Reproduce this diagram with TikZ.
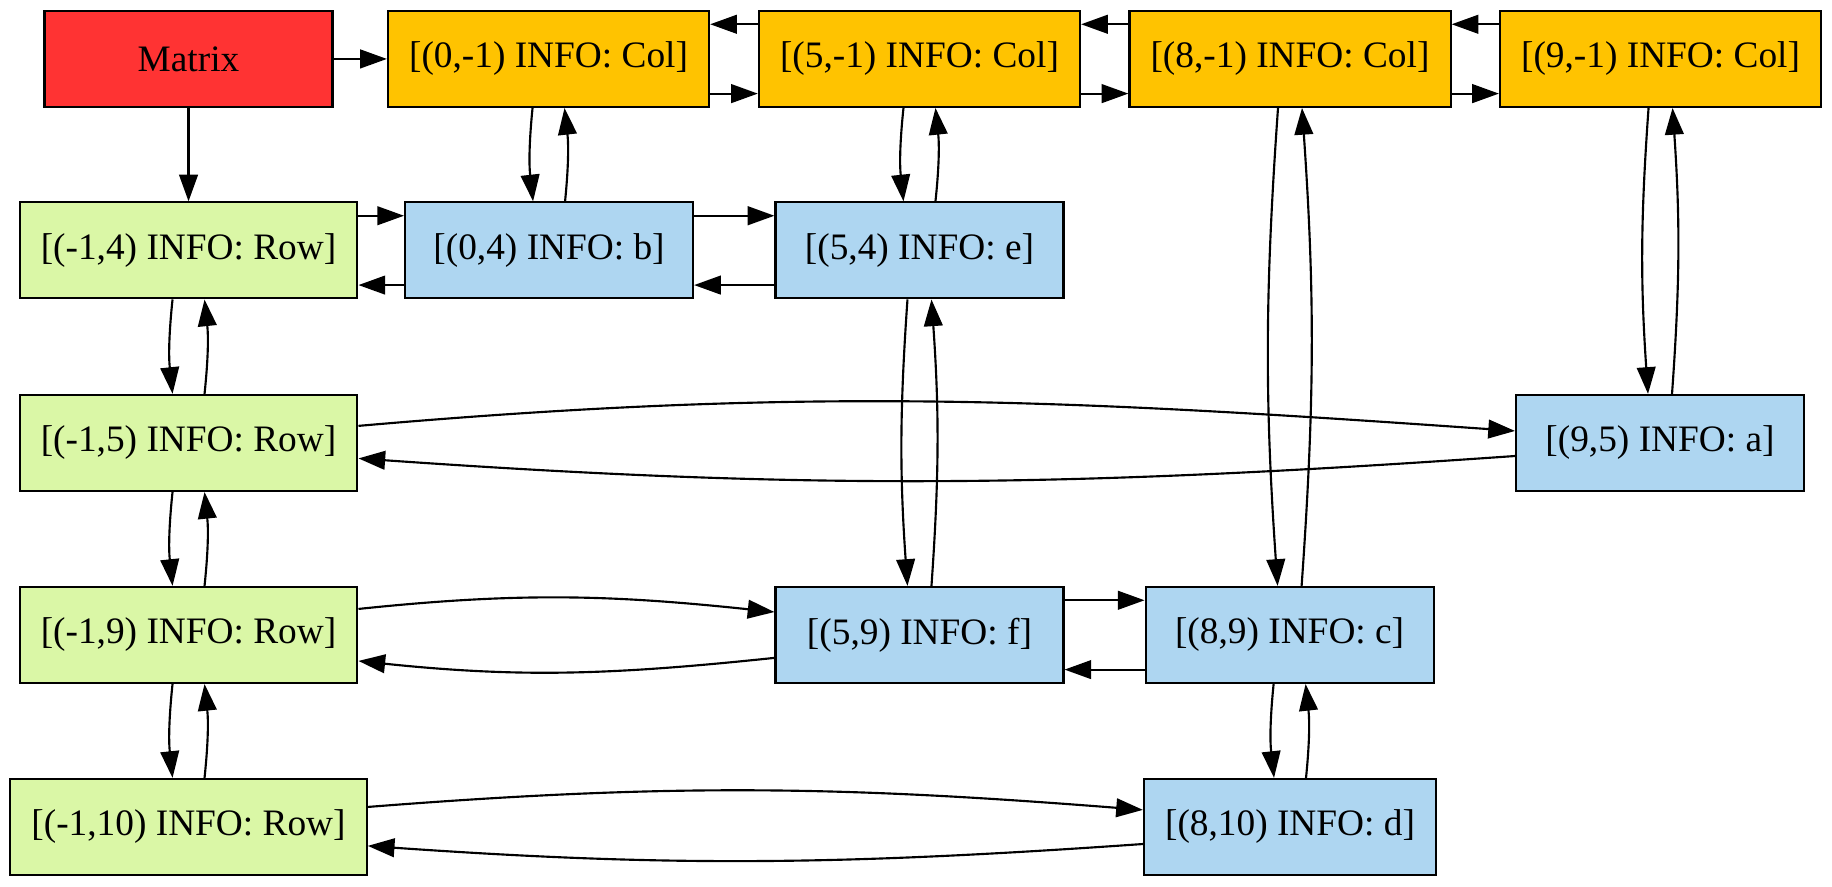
\documentclass[tikz,border=0pt]{standalone}
\usepackage{fontspec}
\setmainfont{Liberation Serif}
\usetikzlibrary{arrows.meta}

\definecolor{matred}{HTML}{FF3333}
\definecolor{colyellow}{HTML}{FFC300}
\definecolor{rowgreen}{HTML}{DAF7A6}
\definecolor{infoblue}{HTML}{AED6F1}

\tikzset{
    box/.style={draw, line width=0.8pt, minimum width=108pt, minimum height=36pt,
        inner xsep=7.92pt, inner ysep=0pt, font=\fontsize{14}{16.8}\selectfont},
    colbox/.style={box, fill=colyellow},
    rowbox/.style={box, fill=rowgreen},
    infobox/.style={box, fill=infoblue},
    link/.style={-{Triangle[length=10pt,width=7pt]}, line width=0.8pt},
}

\begin{document}
\begin{tikzpicture}
\useasboundingbox (0,0) rectangle (687pt,-332.25pt);

\node[box, fill=matred] (matrix) at (70.7pt,-22.1pt) {Matrix};

\foreach \i/\x in {0/205.7pt, 5/344.8pt, 8/483.75pt, 9/622.7pt} {
    \node[colbox] (c\i) at (\x,-22.1pt) {[(\i,-1) INFO: Col]};
}

\foreach \i/\y in {4/-93.9pt, 5/-166.1pt, 9/-238.1pt, 10/-310.1pt} {
    \node[rowbox] (r\i) at (70.7pt,\y) {[(-1,\i) INFO: Row]};
}

\node[infobox] (nb) at (205.9pt,-93.9pt) {[(0,4) INFO: b]};
\node[infobox] (ne) at (344.8pt,-93.9pt) {[(5,4) INFO: e]};
\node[infobox] (na) at (622.5pt,-166.1pt) {[(9,5) INFO: a]};
\node[infobox] (nf) at (344.8pt,-238.1pt) {[(5,9) INFO: f]};
\node[infobox] (nc) at (483.6pt,-238.1pt) {[(8,9) INFO: c]};
\node[infobox] (nd) at (483.75pt,-310.1pt) {[(8,10) INFO: d]};

\draw[link] (matrix) -- (c0);
\draw[link] (matrix) -- (r4);

% column heads
\foreach \p/\q in {c0/c5, c5/c8, c8/c9} {
    \draw[link] ([yshift=-13pt]\p.east) -- ([yshift=-13pt]\q.west);
    \draw[link] ([yshift=13pt]\q.west) -- ([yshift=13pt]\p.east);
}

% neighbours in a row
\foreach \p/\q in {r4/nb, nb/ne, nf/nc} {
    \draw[link] ([yshift=13pt]\p.east) -- ([yshift=13pt]\q.west);
    \draw[link] ([yshift=-13pt]\q.west) -- ([yshift=-13pt]\p.east);
}

% neighbours in a column
\foreach \p/\q in {c0/nb, c5/ne, r4/r5, r5/r9, r9/r10, nc/nd} {
    \draw[link] ([xshift=-6pt]\p.south) to[bend right=6] ([xshift=-6pt]\q.north);
    \draw[link] ([xshift=6pt]\q.north) to[bend right=6] ([xshift=6pt]\p.south);
}
\foreach \p/\q in {ne/nf, c8/nc, c9/na} {
    \draw[link] ([xshift=-4.5pt]\p.south) to[bend right=4] ([xshift=-4.5pt]\q.north);
    \draw[link] ([xshift=4.5pt]\q.north) to[bend right=4] ([xshift=4.5pt]\p.south);
}

% long row links
\draw[link] ([yshift=6.4pt]r5.east) to[out=5,in=176] ([yshift=4.5pt]na.west);
\draw[link] ([yshift=-4.9pt]na.west) to[out=184,in=-4] ([yshift=-5.8pt]r5.east);
\draw[link] ([yshift=9.75pt]r9.east) to[out=6,in=174] ([yshift=8.6pt]nf.west);
\draw[link] ([yshift=-8.6pt]nf.west) to[out=186,in=-6] ([yshift=-9.75pt]r9.east);
\draw[link] ([yshift=7.5pt]r10.east) to[out=4.5,in=175.5] ([yshift=6.4pt]nd.west);
\draw[link] ([yshift=-6.4pt]nd.west) to[out=184,in=-4] ([yshift=-7.1pt]r10.east);
\end{tikzpicture}
\end{document}
